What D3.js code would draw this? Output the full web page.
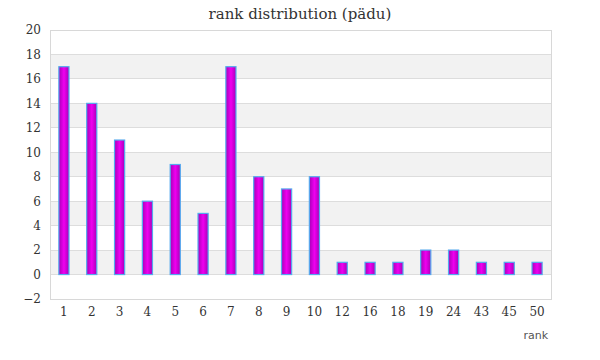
<!DOCTYPE html>
<html><head><meta charset="utf-8">
<script src="https://cdn.jsdelivr.net/npm/d3@7"></script>
<style>body{margin:0;background:#fff}svg{display:block}</style>
</head><body>
<svg id="c" width="600" height="360"></svg>
<script>
const categories = ["1","2","3","4","5","6","7","8","9","10","12","16","18","19","24","43","45","50"];
const values = [17,14,11,6,9,5,17,8,7,8,1,1,1,2,2,1,1,1];
const yTicks = [-2,0,2,4,6,8,10,12,14,16,18,20];
const title = "rank distribution (pädu)";
const xTitle = "rank";

const svg = d3.select("#c");
const L = 50, R = 551, T = 30, B = 299;
const serif = "Georgia, 'DejaVu Serif', 'Liberation Serif', serif";

const x = d3.scaleBand().domain(categories).range([L, R]).paddingInner(0.6).paddingOuter(0.3);
const y = d3.scaleLinear().domain([-2, 20]).range([B, T]);

const defs = svg.append("defs");
const g = defs.append("linearGradient").attr("id","bg").attr("x1","0").attr("x2","1").attr("y1","0").attr("y2","0");
g.append("stop").attr("offset","0%").attr("stop-color","#a800b8");
g.append("stop").attr("offset","50%").attr("stop-color","#f000f0");
g.append("stop").attr("offset","100%").attr("stop-color","#a800b8");

// alternating bands
for (let i = 0; i < yTicks.length - 1; i++) {
  const lo = yTicks[i], hi = yTicks[i+1];
  if (lo >= 0 && (lo/2) % 2 === 0 && hi <= 18) {
    svg.append("rect").attr("x", L).attr("width", R - L)
      .attr("y", y(hi)).attr("height", y(lo) - y(hi)).attr("fill", "#f2f2f2");
  }
}
// gridlines
svg.append("g").selectAll("line").data(yTicks).join("line")
  .attr("x1", L).attr("x2", R).attr("y1", d => y(d)).attr("y2", d => y(d))
  .attr("stroke", "#dddddd").attr("shape-rendering","crispEdges");
svg.append("rect").attr("x", L).attr("y", T).attr("width", R - L).attr("height", B - T)
  .attr("fill","none").attr("stroke","#d8d8d8").attr("shape-rendering","crispEdges");

// y axis labels
const ya = svg.append("g").attr("transform", `translate(${L-9},0)`)
  .call(d3.axisLeft(y).tickValues(yTicks).tickSize(0).tickPadding(0));
ya.select(".domain").remove();
ya.selectAll("text").attr("font-family", serif).attr("font-size", 12).attr("fill", "#333");

// x axis labels
const xa = svg.append("g").attr("transform", `translate(0,${B+8})`)
  .call(d3.axisBottom(x).tickSize(0).tickPadding(0));
xa.select(".domain").remove();
xa.selectAll("text").attr("font-family", serif).attr("font-size", 12).attr("fill", "#333");

// bars
svg.append("g").selectAll("rect").data(categories).join("rect")
  .attr("x", d => x(d) + 0.5)
  .attr("width", x.bandwidth() - 1)
  .attr("y", (d,i) => y(values[i]))
  .attr("height", (d,i) => y(0) - y(values[i]))
  .attr("fill", "url(#bg)")
  .attr("stroke", "#55aaee").attr("stroke-width", 1.2);

svg.append("text").attr("x", 300).attr("y", 19).attr("text-anchor","middle")
  .attr("font-family", serif).attr("font-size", 15).attr("fill", "#333").text(title);
svg.append("text").attr("x", 548).attr("y", 339).attr("text-anchor","end")
  .attr("font-family", "'DejaVu Sans', Verdana, sans-serif").attr("font-size", 11).attr("fill", "#555").text(xTitle);
</script>
</body></html>
